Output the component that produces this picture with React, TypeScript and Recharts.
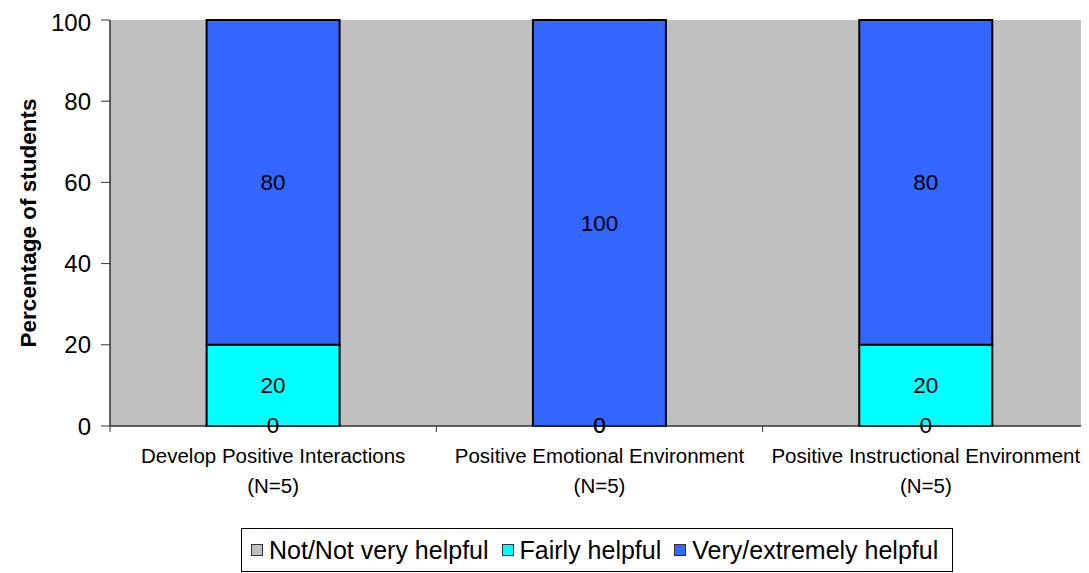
import { BarChart, Bar, XAxis, YAxis, CartesianGrid, Legend, LabelList, Label } from 'recharts'

const categories = ['Develop Positive Interactions', 'Positive Emotional Environment', 'Positive Instructional Environment']
const sampleSizes = ['(N=5)', '(N=5)', '(N=5)']
const notHelpful = [0, 0, 0]
const fairlyHelpful = [20, 0, 20]
const veryHelpful = [80, 100, 80]
const yTicks = [0, 20, 40, 60, 80, 100]

const seriesNames = ['Not/Not very helpful', 'Fairly helpful', 'Very/extremely helpful']
const seriesColors = ['#c0c0c0', '#00ffff', '#3366ff']

const data = categories.map((c, i) => ({
  name: c,
  not: notHelpful[i],
  fairly: fairlyHelpful[i],
  very: veryHelpful[i],
}))

const FONT = '"Liberation Sans", Arial, sans-serif'
const AXIS = '#333'

// category labels on two lines, plus tick marks at the category boundaries
function CategoryTick(props: any) {
  const { x, y, payload, index } = props
  const half = payload.offset || 0
  const top = y - 8
  return (
    <g>
      <line x1={x - half} y1={top} x2={x - half} y2={top + 6} stroke={AXIS} />
      {index === categories.length - 1 && (
        <line x1={x + half} y1={top} x2={x + half} y2={top + 6} stroke={AXIS} />
      )}
      <text x={x} y={y} textAnchor="middle" fontFamily={FONT} fontSize={20.5} fill="#000">
        <tspan x={x} dy={29}>{payload.value}</tspan>
        <tspan x={x} dy={30}>{sampleSizes[index]}</tspan>
      </text>
    </g>
  )
}

function LegendBox() {
  return (
    <div style={{
      boxSizing: 'border-box', border: '1px solid #000', height: 44, display: 'flex', alignItems: 'center',
      paddingLeft: 9, fontFamily: FONT, fontSize: 25, color: '#000', background: '#fff',
    }}>
      {seriesNames.map((s, i) => (
        <span key={s} style={{ display: 'flex', alignItems: 'center', marginRight: i < 2 ? 13 : 0 }}>
          <span style={{
            display: 'inline-block', width: 10, height: 10, background: seriesColors[i],
            border: '1.5px solid #333', marginRight: 6,
          }} />
          {s}
        </span>
      ))}
    </div>
  )
}

function YTitle(props: any) {
  const { viewBox } = props
  const cx = viewBox.x + 20
  const cy = viewBox.y + viewBox.height / 2
  return (
    <text x={cx} y={cy} transform={`rotate(-90, ${cx}, ${cy})`} textAnchor="middle"
      dominantBaseline="central" fontFamily={FONT} fontSize={22.5} fontWeight="bold" fill="#000">
      Percentage of students
    </text>
  )
}

export default function App() {
  const labelStyle = { fontFamily: FONT, fontSize: 22.5, fill: '#000' }
  return (
    <BarChart width={1081} height={565} data={data} margin={{ top: 12, right: 0, bottom: 0, left: 0 }}
      barCategoryGap="29.6%">
      <CartesianGrid horizontal={false} vertical={false} fill="#c0c0c0" />
      <XAxis dataKey="name" height={147} interval={0} tickLine={false}
        axisLine={{ stroke: AXIS, strokeWidth: 1.5 }} tick={<CategoryTick />} />
      <YAxis width={102} domain={[0, 100]} ticks={yTicks} tickSize={9} tickMargin={10}
        axisLine={{ stroke: AXIS, strokeWidth: 1.5 }} tickLine={{ stroke: AXIS }}
        tick={{ fontFamily: FONT, fontSize: 24, fill: '#000' }}>
        <Label content={<YTitle />} />
      </YAxis>
      <Legend verticalAlign="middle" align="center" content={<LegendBox />}
        wrapperStyle={{ left: 233, top: 520, width: 712, height: 44 }} />
      <Bar dataKey="not" stackId="a" fill={seriesColors[0]} stroke="#000" strokeWidth={2}
        minPointSize={1} isAnimationActive={false}>
        <LabelList dataKey="not" position="center" style={labelStyle} />
      </Bar>
      <Bar dataKey="fairly" stackId="a" fill={seriesColors[1]} stroke="#000" strokeWidth={2}
        minPointSize={1} isAnimationActive={false}>
        <LabelList dataKey="fairly" position="center" style={labelStyle} />
      </Bar>
      <Bar dataKey="very" stackId="a" fill={seriesColors[2]} stroke="#000" strokeWidth={2}
        isAnimationActive={false}>
        <LabelList dataKey="very" position="center" style={labelStyle} />
      </Bar>
    </BarChart>
  )
}
